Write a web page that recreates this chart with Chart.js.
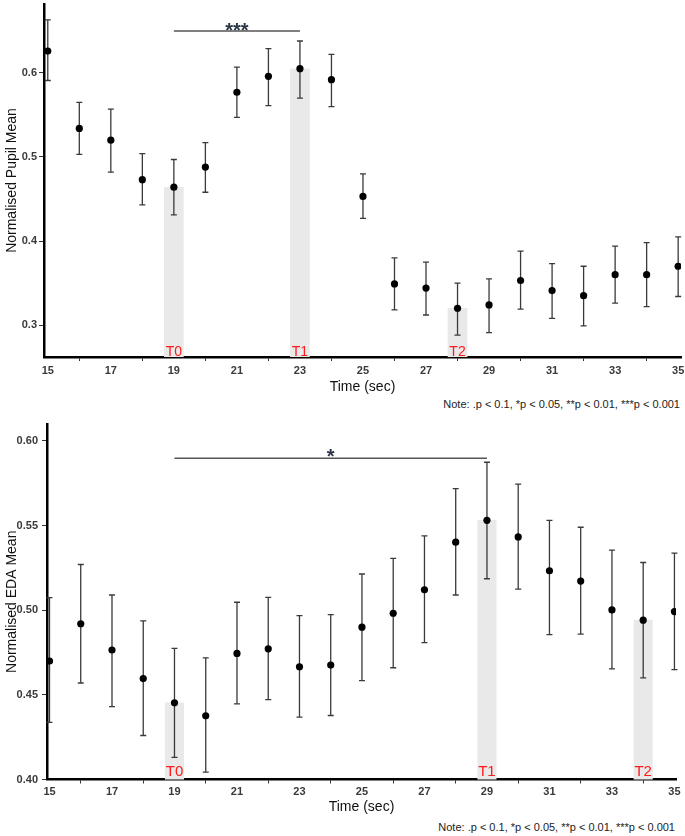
<!DOCTYPE html>
<html>
<head>
<meta charset="utf-8">
<script src="https://cdn.jsdelivr.net/npm/chart.js@4.4.1/dist/chart.umd.min.js"></script>
<style>
  body { margin: 0; background: #fff; }
  #wrap { position: relative; width: 685px; height: 836px; background: #fff; overflow: hidden; }
  canvas { position: absolute; left: 0; }
  #pupilChart { top: 0; }
  #edaChart { top: 420px; }
  .note { position: absolute; font-family: "Liberation Sans", Arial, sans-serif; font-size: 11px; color: #222; white-space: nowrap; line-height: 13px; }
  #note1 { right: 5px; top: 398px; }
  #note2 { right: 10px; top: 821px; }
</style>
</head>
<body>
<div id="wrap">
  <canvas id="pupilChart" width="685" height="396"></canvas>
  <canvas id="edaChart" width="685" height="396"></canvas>
  <div class="note" id="note1">Note: .p &lt; 0.1, *p &lt; 0.05, **p &lt; 0.01, ***p &lt; 0.001</div>
  <div class="note" id="note2">Note: .p &lt; 0.1, *p &lt; 0.05, **p &lt; 0.01, ***p &lt; 0.001</div>
</div>
<script>
const time = [15, 16, 17, 18, 19, 20, 21, 22, 23, 24, 25, 26, 27, 28, 29, 30, 31, 32, 33, 34, 35];
const xTicks = [15, 17, 19, 21, 23, 25, 27, 29, 31, 33, 35];

const pupilMean = [0.626, 0.534, 0.520, 0.473, 0.464, 0.488, 0.577, 0.596, 0.605, 0.592, 0.453, 0.349, 0.344, 0.320, 0.324, 0.353, 0.341, 0.335, 0.360, 0.360, 0.370];
const pupilLow  = [0.591, 0.503, 0.482, 0.443, 0.431, 0.458, 0.547, 0.561, 0.570, 0.560, 0.427, 0.318, 0.312, 0.288, 0.291, 0.319, 0.308, 0.299, 0.326, 0.322, 0.334];
const pupilHigh = [0.663, 0.565, 0.557, 0.504, 0.497, 0.517, 0.607, 0.629, 0.638, 0.622, 0.480, 0.380, 0.375, 0.350, 0.355, 0.388, 0.373, 0.370, 0.394, 0.398, 0.405];
const pupilTicks = [0.3, 0.4, 0.5, 0.6];
const pupilMarks = [19, 23, 28];
const pupilSig = [19, 23, 0.65];

const edaMean = [0.470, 0.492, 0.4765, 0.4596, 0.4453, 0.4376, 0.4745, 0.4772, 0.4666, 0.4676, 0.490, 0.4982, 0.5121, 0.5402, 0.5531, 0.5433, 0.5233, 0.5172, 0.5002, 0.4941, 0.4992];
const edaLow  = [0.4337, 0.457, 0.443, 0.426, 0.4131, 0.4043, 0.4447, 0.4472, 0.4368, 0.4378, 0.4584, 0.466, 0.4808, 0.509, 0.5186, 0.5124, 0.4856, 0.4859, 0.4653, 0.460, 0.4649];
const edaHigh = [0.5074, 0.527, 0.509, 0.4937, 0.4774, 0.4718, 0.5047, 0.5076, 0.4968, 0.4974, 0.5214, 0.5306, 0.5439, 0.5718, 0.5874, 0.5745, 0.5531, 0.549, 0.5355, 0.5282, 0.5337];
const edaTicks = [0.40, 0.45, 0.50, 0.55, 0.60];
const edaMarks = [19, 29, 34];
const edaSig = [19, 29, 0.5898];

const markLabels = ["T0", "T1", "T2"];
const font = "'Liberation Sans', Arial, sans-serif";

function extras(low, high, marks, sig, stars, labelSize, labelLift, starDrop) {
    return {
        id: "extras",
        afterDatasetDraw(chart, args) {
            if (args.index !== 0) return;
            const xs = chart.scales.x, ys = chart.scales.y, ctx = chart.ctx;
            ctx.save();
            ctx.strokeStyle = "#3a3a3a";
            ctx.lineWidth = 1.3;
            time.forEach((t, i) => {
                const px = xs.getPixelForValue(t);
                const lo = ys.getPixelForValue(low[i]);
                const hi = ys.getPixelForValue(high[i]);
                ctx.beginPath();
                ctx.moveTo(px, lo); ctx.lineTo(px, hi);
                ctx.moveTo(px - 3, lo); ctx.lineTo(px + 3, lo);
                ctx.moveTo(px - 3, hi); ctx.lineTo(px + 3, hi);
                ctx.stroke();
            });
            ctx.restore();
        },
        afterDatasetsDraw(chart) {
            const xs = chart.scales.x, ys = chart.scales.y, ctx = chart.ctx;
            const area = chart.chartArea;
            ctx.save();
            // time markers
            ctx.fillStyle = "#ff1a1a";
            ctx.font = labelSize + "px " + font;
            ctx.textAlign = "center";
            ctx.textBaseline = "alphabetic";
            marks.forEach((m, i) => {
                ctx.fillText(markLabels[i], xs.getPixelForValue(m), area.bottom - labelLift);
            });
            // significance bracket
            const sy = ys.getPixelForValue(sig[2]);
            ctx.strokeStyle = "#555";
            ctx.lineWidth = 1.5;
            ctx.beginPath();
            ctx.moveTo(xs.getPixelForValue(sig[0]), sy);
            ctx.lineTo(xs.getPixelForValue(sig[1]), sy);
            ctx.stroke();
            ctx.fillStyle = "#2b3646";
            ctx.font = "bold 20px " + font;
            ctx.fillText(stars, xs.getPixelForValue((sig[0] + sig[1]) / 2), sy + starDrop);
            ctx.restore();
        }
    };
}

function makeChart(id, cfg) {
    const barData = cfg.marks.map(m => ({ x: m, y: cfg.mean[time.indexOf(m)] }));
    const pointData = time.map((t, i) => ({ x: t, y: cfg.mean[i] }));
    return new Chart(document.getElementById(id), {
        type: "scatter",
        data: {
            datasets: [
                { type: "bar", data: barData, backgroundColor: "#e9e9e9", barThickness: cfg.barWidth, order: 2 },
                { type: "scatter", data: pointData, backgroundColor: "#000", borderColor: "#000", pointRadius: 3.6, borderWidth: 0, order: 1 }
            ]
        },
        options: {
            responsive: false,
            animation: false,
            layout: { padding: { top: cfg.padTop, right: cfg.padRight, left: 0, bottom: 0 } },
            plugins: { legend: { display: false }, tooltip: { enabled: false } },
            scales: {
                x: {
                    type: "linear",
                    min: cfg.xMin, max: cfg.xMax,
                    offset: false,
                    afterBuildTicks: axis => { axis.ticks = xTicks.map(v => ({ value: v })); },
                    afterFit: axis => {
                        axis.height = cfg.xHeight;
                        axis.paddingLeft = 0;
                        axis.paddingRight = 0;
                    },
                    grid: { drawOnChartArea: false, drawTicks: true, tickLength: 4, color: "#333" },
                    border: { display: true, color: "#000", width: 2.5 },
                    ticks: { padding: cfg.xPad, color: "#3a3a3a", autoSkip: false, maxRotation: 0, font: { family: font, size: 11, weight: "bold" } },
                    title: { display: true, text: "Time (sec)", color: "#111", padding: { top: 0, bottom: 0 }, font: { family: font, size: 14 } }
                },
                y: {
                    type: "linear",
                    min: cfg.yMin, max: cfg.yMax,
                    beginAtZero: false,
                    afterBuildTicks: axis => { axis.ticks = cfg.yTicks.map(v => ({ value: v })); },
                    afterFit: axis => {
                        axis.width = cfg.yWidth;
                        axis.paddingTop = 0;
                        axis.paddingBottom = 0;
                    },
                    grid: { drawOnChartArea: false, drawTicks: true, tickLength: 5, color: "#333" },
                    border: { display: true, color: "#000", width: 2.5 },
                    ticks: { padding: cfg.yPad, color: "#3a3a3a", font: { family: font, size: 11, weight: "bold" }, callback: v => v.toFixed(cfg.decimals) },
                    title: { display: true, text: cfg.yTitle, color: "#111", font: { family: font, size: 14 } }
                }
            }
        },
        plugins: [extras(cfg.low, cfg.high, cfg.marks, cfg.sig, cfg.stars, cfg.labelSize, cfg.labelLift, cfg.starDrop)]
    });
}

makeChart("pupilChart", {
    mean: pupilMean, low: pupilLow, high: pupilHigh, marks: pupilMarks, sig: pupilSig, stars: "***",
    yTicks: pupilTicks, yMin: 0.262, yMax: 0.682, decimals: 1, yTitle: "Normalised Pupil Mean",
    xMin: 14.88, xMax: 35.09, padTop: 0, padRight: 4, xHeight: 39, yWidth: 44, xPad: 3, yPad: 2,
    barWidth: 19, labelSize: 14, labelLift: 1.5, starDrop: 6
});

makeChart("edaChart", {
    mean: edaMean, low: edaLow, high: edaHigh, marks: edaMarks, sig: edaSig, stars: "*",
    yTicks: edaTicks, yMin: 0.40, yMax: 0.61, decimals: 2, yTitle: "Normalised EDA Mean",
    xMin: 14.92, xMax: 35.05, padTop: 3, padRight: 9, xHeight: 36.5, yWidth: 47, xPad: 2, yPad: 4,
    barWidth: 18.5, labelSize: 15, labelLift: 3.5, starDrop: 5
});
</script>
</body>
</html>
